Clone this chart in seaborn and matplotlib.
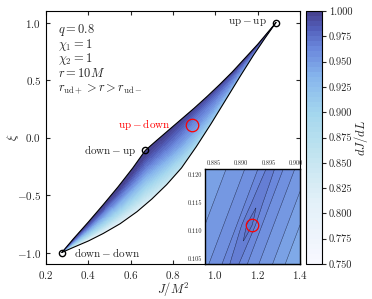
import numpy as np
import matplotlib
matplotlib.use('Agg')
import matplotlib.pyplot as plt
import seaborn as sns
from matplotlib.colors import LinearSegmentedColormap
from matplotlib.patches import Polygon

# edges of the allowed region at r = 10M
upper_J = [0.2747, 0.33, 0.40, 0.47, 0.54, 0.61, 0.6697, 0.72, 0.78, 0.84,
           0.90, 0.96, 1.02, 1.08, 1.14, 1.20, 1.2867]
upper_xi = [-1.000, -0.88, -0.735, -0.585, -0.43, -0.265, -0.111, -0.03, 0.065, 0.16,
            0.255, 0.355, 0.46, 0.57, 0.69, 0.81, 1.000]
lower_J = [0.2747, 0.33, 0.40, 0.47, 0.55, 0.63, 0.70, 0.77, 0.84, 0.91,
           0.98, 1.05, 1.12, 1.18, 1.235, 1.2867]
lower_xi = [-1.000, -0.955, -0.90, -0.835, -0.75, -0.645, -0.535, -0.41, -0.265, -0.08,
            0.12, 0.33, 0.54, 0.715, 0.865, 1.000]

# aligned spin configurations
config_names = ['up-up', 'up-down', 'down-up', 'down-down']
config_J = [1.2867, 0.8919, 0.6697, 0.2747]
config_xi = [1.0, 0.111, -0.111, -1.0]

# dJ/dL at stations in J, going from the upper edge (0) to the lower edge (1)
field_J = [0.2747, 0.31, 0.40, 0.55, 0.6697, 0.80, 0.8919, 1.00, 1.12, 1.22, 1.2867]
field_frac = [0.0, 0.1, 0.3, 0.5, 0.7, 0.9, 1.0]
field_vals = [
    [0.98, 0.97, 0.95, 0.92, 0.89, 0.86, 0.84],
    [0.995, 0.985, 0.955, 0.92, 0.88, 0.83, 0.80],
    [1.00, 0.99, 0.96, 0.925, 0.885, 0.82, 0.79],
    [1.00, 0.995, 0.965, 0.93, 0.89, 0.83, 0.80],
    [1.00, 0.995, 0.97, 0.935, 0.895, 0.845, 0.815],
    [1.00, 0.99, 0.97, 0.945, 0.91, 0.87, 0.845],
    [0.995, 0.985, 0.965, 0.95, 0.925, 0.895, 0.875],
    [0.995, 0.985, 0.97, 0.955, 0.94, 0.915, 0.90],
    [1.00, 0.99, 0.975, 0.965, 0.95, 0.935, 0.925],
    [1.00, 0.995, 0.985, 0.975, 0.965, 0.955, 0.95],
    [1.00, 1.00, 0.995, 0.99, 0.98, 0.975, 0.97],
]

# inset: dJ/dL around the up-down point, across and along the narrow ridge
ridge_J0, ridge_xi0, ridge_slope = 0.8915, 0.111, 2.6
inset_dxi = [-0.009, -0.0035, 0.0, 0.0037, 0.012]
inset_dJ = [-0.014, -0.0081, -0.0047, -0.0023, -0.0014, -0.0005, 0.0, 0.0005,
            0.0011, 0.0023, 0.0044, 0.0069, 0.0092, 0.014]
inset_vals = [
    [0.9425, 0.950, 0.955, 0.960, 0.963, 0.9655, 0.9665, 0.9655, 0.963, 0.960, 0.955, 0.950, 0.945, 0.9375],
    [0.9425, 0.950, 0.955, 0.960, 0.964, 0.9675, 0.9695, 0.9675, 0.964, 0.960, 0.955, 0.950, 0.945, 0.9375],
    [0.9425, 0.950, 0.955, 0.960, 0.965, 0.970, 0.9725, 0.970, 0.965, 0.960, 0.955, 0.950, 0.945, 0.9375],
    [0.9425, 0.950, 0.955, 0.960, 0.964, 0.9675, 0.9695, 0.9675, 0.964, 0.960, 0.955, 0.950, 0.945, 0.9375],
    [0.9425, 0.950, 0.955, 0.960, 0.963, 0.9655, 0.9665, 0.9655, 0.963, 0.960, 0.955, 0.950, 0.945, 0.9375],
]

info_lines = [r'$q=0.8$', r'$\chi_1=1$', r'$\chi_2=1$', r'$r=10M$',
              r'$r_{\rm ud+}>r>r_{\rm ud-}$']
cbar_ticks = [0.750, 0.775, 0.800, 0.825, 0.850, 0.875, 0.900, 0.925, 0.950, 0.975, 1.000]
inset_xticks = [0.885, 0.890, 0.895, 0.900]
inset_yticks = [0.105, 0.110, 0.115, 0.120]

cmap_nodes = [0.0, 0.25, 0.45, 0.6, 0.75, 0.85, 0.93, 1.0]
cmap_colors = ['#f8f8ff', '#e2f0f8', '#bfe3ef', '#a3d6ee', '#85b3ec', '#6b88dc', '#5360bb', '#463f8d']


def table_field(u, v, u_nodes, v_nodes, table):
    """bilinear lookup of a small table on 2d coordinate arrays"""
    rows = np.array([np.interp(v, v_nodes, row) for row in np.asarray(table)])
    pos = np.interp(u, u_nodes, np.arange(len(u_nodes)))
    i0 = np.clip(np.floor(pos).astype(int), 0, len(u_nodes) - 2)
    w = pos - i0
    r0 = np.take_along_axis(rows, i0[None], axis=0)[0]
    r1 = np.take_along_axis(rows, (i0 + 1)[None], axis=0)[0]
    return (1 - w) * r0 + w * r1


sns.set_style('ticks')
plt.rcParams.update({
    'font.family': 'serif',
    'font.serif': ['cmr10', 'DejaVu Serif'],
    'mathtext.fontset': 'cm',
    'axes.formatter.use_mathtext': True,
    'axes.unicode_minus': True,
    'font.size': 8,
    'axes.linewidth': 0.8,
    'axes.edgecolor': 'k',
})

cmap = LinearSegmentedColormap.from_list('djdl', list(zip(cmap_nodes, cmap_colors)))
levels = np.linspace(0.75, 1.0, 51)

fig = plt.figure(figsize=(3.72, 2.99), dpi=100)
ax = fig.add_axes([46 / 372, 35 / 299, 254 / 372, 253 / 299])

# main field
Jg, Xg = np.meshgrid(np.linspace(0.26, 1.30, 500), np.linspace(-1.02, 1.02, 500))
up = np.interp(Jg, upper_J, upper_xi)
lo = np.interp(Jg, lower_J, lower_xi)
frac = np.clip((up - Xg) / np.maximum(up - lo, 1e-3), 0, 1)
Z = np.clip(table_field(Jg, frac, field_J, field_frac, field_vals), 0.7501, 0.9999)

cf = ax.contourf(Jg, Xg, Z, levels=levels, cmap=cmap)
verts = list(zip(upper_J, upper_xi)) + list(zip(lower_J[::-1], lower_xi[::-1]))
lens = Polygon(verts, closed=True, transform=ax.transData, fc='none', ec='none')
ax.add_patch(lens)
cf.set_clip_path(lens)

sns.lineplot(x=upper_J, y=upper_xi, sort=False, estimator=None, color='k', lw=0.8, ax=ax)
sns.lineplot(x=lower_J, y=lower_xi, sort=False, estimator=None, color='k', lw=0.8, ax=ax)

for name, j, x in zip(config_names, config_J, config_xi):
    if name == 'up-down':
        ax.plot(j, x, 'o', ms=9, mfc='none', mec='red', mew=0.9)
    else:
        ax.plot(j, x, 'o', ms=4.5, mfc='none', mec='k', mew=1.0)

ax.text(1.245, 1.0, r'$\rm up-up$', ha='right', va='center', fontsize=8)
ax.text(0.79, 0.115, r'$\rm up-down$', ha='right', va='center', fontsize=8, color='red')
ax.text(0.628, -0.111, r'$\rm down-up$', ha='right', va='center', fontsize=8)
ax.text(0.332, -1.0, r'$\rm down-down$', ha='left', va='center', fontsize=8)

for i, line in enumerate(info_lines):
    ax.text(0.047, 0.925 - 0.058 * i, line, transform=ax.transAxes,
            ha='left', va='center', fontsize=9)

ax.set_xlim(0.2, 1.4)
ax.set_ylim(-1.1, 1.1)
ax.set_xticks([0.2, 0.4, 0.6, 0.8, 1.0, 1.2, 1.4])
ax.set_yticks([-1.0, -0.5, 0.0, 0.5, 1.0])
ax.tick_params(direction='in', top=True, right=True, labelsize=8, length=3)
ax.set_xlabel(r'$J/M^2$', fontsize=9)
ax.set_ylabel(r'$\xi$', fontsize=9)
ax.xaxis.set_label_coords(0.5, -0.068)
ax.yaxis.set_label_coords(-0.10, 0.5)

# colorbar
cax = fig.add_axes([306 / 372, 35 / 299, 16 / 372, 253 / 299])
cb = fig.colorbar(cf, cax=cax, ticks=cbar_ticks)
cb.ax.set_yticklabels(['%.3f' % t for t in cbar_ticks])
cb.ax.tick_params(labelsize=7.5, length=3, pad=2)
cb.outline.set_linewidth(0.8)
cb.set_label(r'$dJ/dL$', fontsize=9)
cb.ax.yaxis.set_label_coords(2.85, 0.5)

# inset zoom on the up-down configuration
axi = fig.add_axes([205 / 372, 35 / 299, 95 / 372, 95 / 299])
Ji, Xi = np.meshgrid(np.linspace(0.8834, 0.9007, 300), np.linspace(0.1040, 0.1210, 300))
dxi = Xi - ridge_xi0
dJ = Ji - (ridge_J0 + dxi / ridge_slope)
Zi = table_field(dxi, dJ, inset_dxi, inset_dJ, inset_vals)
axi.contourf(Ji, Xi, Zi, levels=levels, cmap=cmap)
axi.contour(Ji, Xi, Zi, levels=levels, colors='k', linewidths=0.35, alpha=0.6)
axi.plot(config_J[1], config_xi[1], 'o', ms=9, mfc='none', mec='red', mew=0.9)
axi.set_xlim(0.8834, 0.9007)
axi.set_ylim(0.1040, 0.1210)
axi.set_xticks(inset_xticks)
axi.set_yticks(inset_yticks)
axi.set_xticklabels(['%.3f' % t for t in inset_xticks])
axi.set_yticklabels(['%.3f' % t for t in inset_yticks])
axi.xaxis.tick_top()
axi.tick_params(direction='in', top=True, bottom=True, left=True, right=True,
                labelsize=4.5, length=2, pad=2)
for s in axi.spines.values():
    s.set_linewidth(1.0)

fig.savefig('out.png', dpi=100)
